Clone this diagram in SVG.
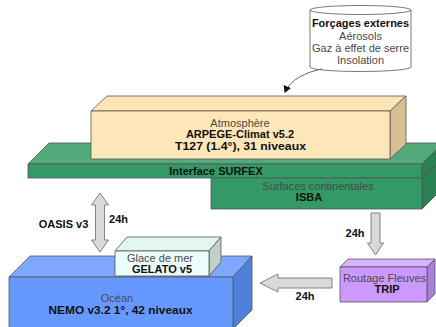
<svg xmlns="http://www.w3.org/2000/svg" width="436" height="327" viewBox="0 0 436 327">
<style>
text{font-family:"Liberation Sans",Arial,sans-serif;font-size:11px;text-anchor:middle}
.r{fill:#4a4a4a}
.b{font-weight:bold;fill:#111}
.edge{stroke:#555;stroke-width:0.8;stroke-linejoin:round}
.arr{fill:#d9d9d9;stroke:#777;stroke-width:0.9}
</style>
<defs>
<marker id="ah" markerWidth="8" markerHeight="8" refX="6" refY="4" orient="auto" markerUnits="userSpaceOnUse">
<path d="M0,0 L7,4 L0,8 Z" fill="#111"/>
</marker>
</defs>
<rect width="436" height="327" fill="#ffffff"/>

<g id="forcages">
<path class="edge" d="M310,10 A50.5,4.5 0 0 1 411,10 L411,67 A50.5,4.5 0 0 1 310,67 Z" fill="#fff"/>
<path class="edge" d="M310,10 A50.5,4.5 0 0 0 411,10" fill="none"/>
<text x="360.5" y="27" class="b">Forçages externes</text>
<text x="360.5" y="39.5" class="r">Aérosols</text>
<text x="360.5" y="51.5" class="r">Gaz à effet de serre</text>
<text x="360.5" y="63.5" class="r">Insolation</text>
</g>

<g id="surfex">
<polygon class="edge" points="28,164 49,143 443,143 422,164" fill="#52aa7a"/>
<rect class="edge" x="28" y="164" width="394" height="14" fill="#339966"/>
<polygon class="edge" points="422,164 443,143 443,188 422,209" fill="#2a7f55"/>
<line class="edge" x1="422" y1="178" x2="443" y2="157"/>
<text x="216" y="174.5" class="b">Interface SURFEX</text>
</g>

<g id="isba">
<rect class="edge" x="211" y="178" width="211" height="31" fill="#339966"/>
<text x="318" y="189.5" class="r">Surfaces continentales</text>
<text x="309" y="201" class="b">ISBA</text>
</g>

<g id="atmosphere">
<polygon class="edge" points="91,111 107,96 406,96 390,111" fill="#fde4b4"/>
<polygon class="edge" points="390,111 406,96 406,144 390,159" fill="#d8bf93"/>
<rect class="edge" x="91" y="111" width="299" height="48" fill="#fde6b8"/>
<text x="240" y="126.5" class="r">Atmosphère</text>
<text x="240" y="138" class="b">ARPEGE-Climat v5.2</text>
<text x="240.5" y="149.5" class="b" textLength="131" lengthAdjust="spacingAndGlyphs">T127 (1.4°), 31 niveaux</text>
</g>

<g id="ocean">
<polygon class="edge" points="9,277 30,256 252,256 233,277" fill="#7ea8ff"/>
<polygon class="edge" points="233,277 252,256 252,310 233,329" fill="#4f80da"/>
<rect class="edge" x="9" y="277" width="224" height="52" fill="#6699ff"/>
<text x="117" y="302" class="r">Océan</text>
<text x="120.5" y="313.5" class="b" textLength="144" lengthAdjust="spacingAndGlyphs">NEMO v3.2 1°, 42 niveaux</text>
</g>

<g id="glace">
<polygon class="edge" points="115,251 127,237 221,237 209,251" fill="#e4f7ef"/>
<polygon class="edge" points="209,251 221,237 221,262 209,276" fill="#bfd1c8"/>
<rect class="edge" x="115" y="251" width="94" height="25" fill="#ebfcfc"/>
<text x="160" y="261.5" class="r">Glace de mer</text>
<text x="162" y="273" class="b">GELATO v5</text>
</g>

<g id="trip">
<polygon class="edge" points="340,267 348,259 435,259 427,267" fill="#d9b2ff"/>
<polygon class="edge" points="427,267 435,259 435,294 427,302" fill="#a97fd8"/>
<rect class="edge" x="340" y="267" width="87" height="35" fill="#cc99ff"/>
<text x="384.5" y="282" class="r">Routage Fleuves</text>
<text x="387" y="292.5" class="b">TRIP</text>
</g>

<g id="connectors">
<path d="M322,69 C306,72 290,80 285,92" fill="none" stroke="#666" stroke-width="1" marker-end="url(#ah)"/>
<polygon class="arr" points="100,193 108.5,205 104.5,205 104.5,240 108.5,240 100,252 91.5,240 95.5,240 95.5,205 91.5,205"/>
<polygon class="arr" points="371,213 380,213 380,243 383.5,243 375.5,255 367.5,243 371,243"/>
<polygon class="arr" points="260,283 278,274 278,278 332,278 332,288 278,288 278,292"/>
<text x="63.5" y="228" class="b">OASIS v3</text>
<text x="118.5" y="223" class="b">24h</text>
<text x="355" y="237" class="b">24h</text>
<text x="305" y="300" class="b">24h</text>
</g>
</svg>
